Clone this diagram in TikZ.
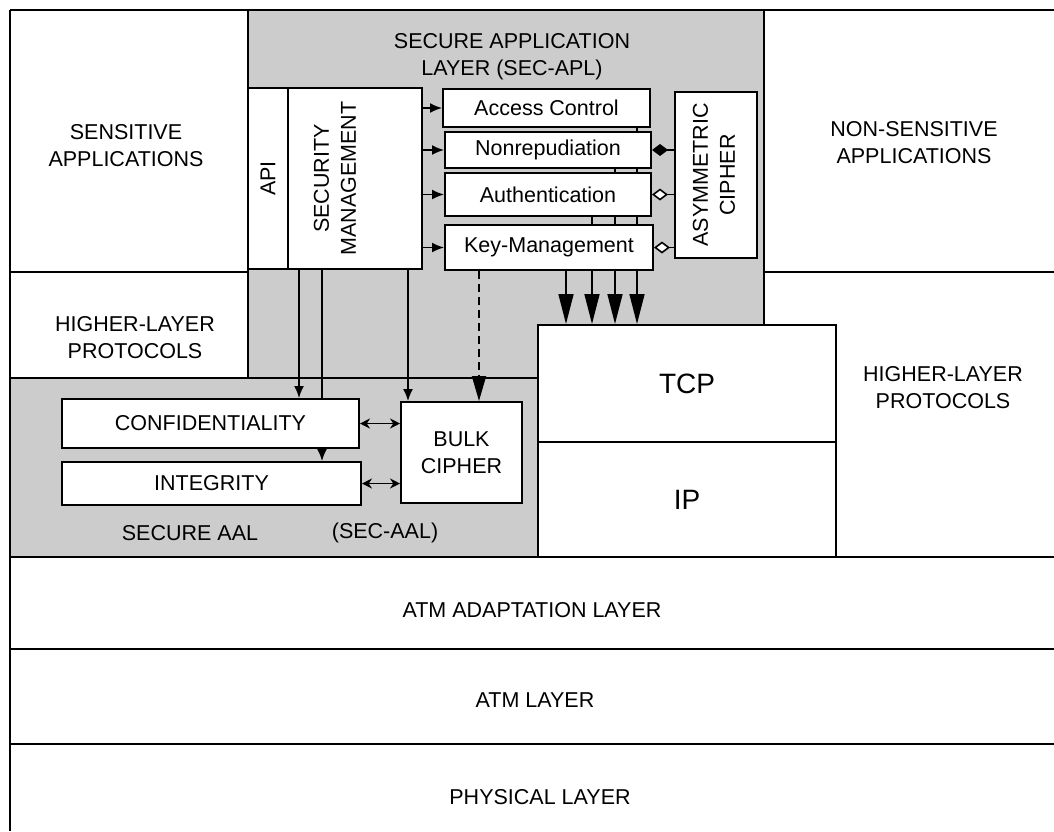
\documentclass[tikz,border=0pt]{standalone}
\usepackage{fontspec}
\setmainfont{Liberation Sans}
\usepackage{graphicx}
\usetikzlibrary{arrows.meta}
\pgfdeclarelayer{shade}
\pgfdeclarelayer{under}
\pgfsetlayers{shade,under,main}
\definecolor{stipple}{gray}{0.80}
\newcommand\lbfont{\fontsize{21.5}{27}\selectfont}
\newcommand\bigfont{\fontsize{28}{30}\selectfont}
\begin{document}
\begin{tikzpicture}[x=1pt,y=-1pt,
  every node/.style={font=\lbfont,align=center,inner sep=0pt},
  box/.style={draw=black,line width=2pt,fill=white},
  frame/.style={line width=2.8pt},
  sarrow/.style={line width=1.6pt,-{Latex[length=12pt,width=10pt]}},
  barrow/.style={line width=1.6pt,-{Triangle[length=30pt,width=15pt]}},
  darrow/.style={line width=1.6pt,{Stealth[length=10pt,width=10pt]}-{Stealth[length=10pt,width=10pt]}},
  dmd/.style={line width=1.6pt,{Diamond[length=16pt,width=12pt]}-},
  odmd/.style={line width=1.6pt,{Diamond[length=16pt,width=12pt,fill=white]}-}]
\useasboundingbox (0,0) rectangle (1054,831);
% shaded secure layers and frame:
\begin{pgfonlayer}{shade}
\path[fill=stipple] (248,10) -- (764,10) -- (764,325) -- (538,325) -- (538,557)
  -- (10,557) -- (10,378) -- (248,378) -- cycle;
\draw[frame] (10,10) -- (1054,10);
\draw[frame] (10,10) -- (10,831);
\draw[frame] (10,272) -- (248,272);
\draw[frame] (764,272) -- (1054,272);
\draw[frame] (248,10) -- (248,378);
\draw[frame] (764,10) -- (764,325);
\draw[frame] (10,378) -- (538,378);
\draw[frame] (10,557) -- (1054,557);
\draw[frame] (10,649) -- (1054,649);
\draw[frame] (10,744) -- (1054,744);
\end{pgfonlayer}
% layer labels:
\node (sens) at (126,146) {SENSITIVE\\APPLICATIONS};
\node (nsens) at (914,143) {NON-SENSITIVE\\APPLICATIONS};
\node (hlpl) at (135,338) {HIGHER-LAYER\\PROTOCOLS};
\node (hlpr) at (943,388) {HIGHER-LAYER\\PROTOCOLS};
\node (secapl) at (512,57) {SECURE APPLICATION\\LAYER (SEC-APL)};
\node (secaal) at (190,533) {SECURE AAL};
\node (secaaln) at (385,533) {(SEC-AAL)};
\node (aal) at (532,610) {ATM ADAPTATION LAYER};
\node (atm) at (535,700) {ATM LAYER};
\node (phy) at (540,797) {PHYSICAL LAYER};
% SEC-APL boxes:
\node[box,minimum width=40pt,minimum height=181pt] (api) at (268,178.5) {\rotatebox{90}{API}};
\node[box,minimum width=134pt,minimum height=181pt,
  label={[xshift=-18pt]center:{\rotatebox{90}{\begin{tabular}{@{}c@{}}SECURITY\\MANAGEMENT\end{tabular}}}}] (sm) at (355,178.5) {};
\node[box,minimum width=207pt,minimum height=38pt] (ac) at (546.5,108) {Access Control};
\node[box,minimum width=206pt,minimum height=36pt] (nr) at (548,150) {Nonrepudiation};
\node[box,minimum width=206pt,minimum height=43pt] (au) at (548,194.5) {Authentication};
\node[box,minimum width=208pt,minimum height=45pt] (km) at (549,247.5) {Key-Management};
\node[box,minimum width=82pt,minimum height=166pt] (asym) at (716,175)
  {\rotatebox{90}{\begin{tabular}{@{}c@{}}ASYMMETRIC\\CIPHER\end{tabular}}};
% SEC-AAL boxes:
\node[box,minimum width=297pt,minimum height=49pt] (conf) at (210.5,423.5) {CONFIDENTIALITY};
\node[box,minimum width=299pt,minimum height=43pt] (int) at (211.5,483.5) {INTEGRITY};
\node[box,minimum width=121pt,minimum height=101pt] (bulk) at (461.5,452.5) {BULK\\CIPHER};
% TCP/IP:
\node[box,minimum width=298pt,minimum height=117pt,font=\bigfont] (tcp) at (687,383.5) {TCP};
\node[box,minimum width=298pt,minimum height=115pt,font=\bigfont] (ip) at (687,499.5) {IP};
% connectors:
\foreach \b in {ac,nr,au,km}
  \draw[sarrow] (sm.east |- \b.west) -- (\b.west);
\draw[dmd] (nr.east) -- (nr.east -| asym.west);
\draw[odmd] (au.east) -- (au.east -| asym.west);
\draw[odmd] (km.east) -- (km.east -| asym.west);
\begin{pgfonlayer}{under}
\draw[barrow] (637,0 |- ac.south) -- (637,0 |- tcp.north);
\draw[barrow] (615,0 |- nr.south) -- (615,0 |- tcp.north);
\draw[barrow] (592,0 |- au.south) -- (592,0 |- tcp.north);
\draw[sarrow] (322,0 |- sm.south) -- (322,0 |- int.north);
\end{pgfonlayer}
\draw[barrow] (566,0 |- km.south) -- (566,0 |- tcp.north);
\draw[sarrow] (299,0 |- sm.south) -- (299,0 |- conf.north);
\draw[sarrow] (408,0 |- sm.south) -- (408,0 |- bulk.north);
\draw[line width=1.8pt,dash pattern=on 8pt off 5pt,-{Triangle[length=25pt,width=14pt]}]
  (479,0 |- km.south) -- (479,0 |- bulk.north);
\draw[darrow] (conf.east) -- (conf.east -| bulk.west);
\draw[darrow] (int.east) -- (int.east -| bulk.west);
\end{tikzpicture}
\end{document}
